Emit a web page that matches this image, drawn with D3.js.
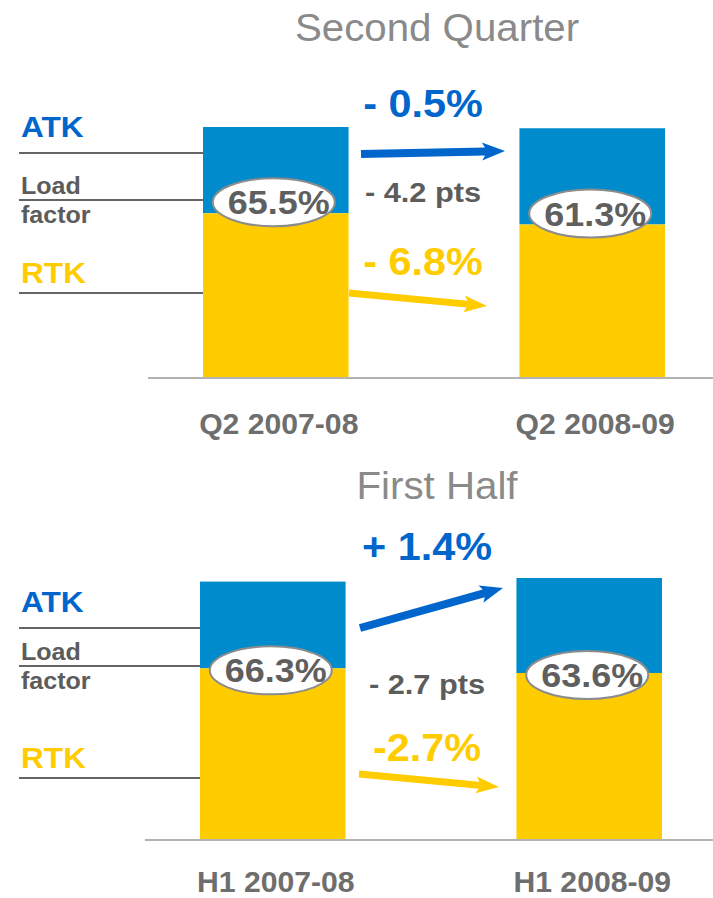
<!DOCTYPE html>
<html>
<head>
<meta charset="utf-8">
<script src="https://cdn.jsdelivr.net/npm/d3@7"></script>
<style>
  body { margin: 0; background: #fff; }
  svg { display: block; font-family: "Liberation Sans", Arial, sans-serif; }
</style>
</head>
<body>
<svg id="chart"></svg>
<script>
// Second quarter
const q2Title = "Second Quarter";
const q2Categories = ["Q2 2007-08", "Q2 2008-09"];
const q2Atk = [100, 99.5];          // ATK index
const q2Rtk = [65.5, 61.0];         // RTK index (ATK x load factor)
const q2LoadFactor = [65.5, 61.3];  // %
const q2Changes = ["- 0.5%", "- 4.2 pts", "- 6.8%"];

// First half
const h1Title = "First Half";
const h1Categories = ["H1 2007-08", "H1 2008-09"];
const h1Atk = [100, 101.4];
const h1Rtk = [66.3, 64.5];
const h1LoadFactor = [66.3, 63.6];
const h1Changes = ["+ 1.4%", "- 2.7 pts", "-2.7%"];

const legendLabels = ["ATK", "Load", "factor", "RTK"];

const width = 713,
      height = 898,
      svg = d3.select("#chart")
              .attr("width", width)
              .attr("height", height);

const BLUE_BAR = "#008ccc",
      BLUE = "#0066cc",
      YELLOW = "#ffcc00",
      GREY = "#5c5c5c";

// the slide text is a little wider than the font draws it
const SX = 1.09;

const fmtPct = d3.format(".1f");

function stretch(xf, yf, s) {
    return function (d, i) {
        const xv = typeof xf === "function" ? xf(d, i) : xf;
        const yv = typeof yf === "function" ? yf(d, i) : yf;
        return `translate(${[xv, yv]}) scale(${s || SX},1)`;
    };
}

function arrowPath(x0, y0, x1, y1, w, L, H) {
    const dx = x1 - x0, dy = y1 - y0, len = Math.hypot(dx, dy);
    const ux = dx / len, uy = dy / len, nx = -uy, ny = ux;
    const bx = x1 - ux * L, by = y1 - uy * L;
    const pts = [
        [x0 + nx * w, y0 + ny * w],
        [bx + nx * w, by + ny * w],
        [bx + nx * H - ux * 3, by + ny * H - uy * 3],
        [x1, y1],
        [bx - nx * H - ux * 3, by - ny * H - uy * 3],
        [bx - nx * w, by - ny * w],
        [x0 - nx * w, y0 - ny * w]
    ];
    return "M" + pts.join("L") + "Z";
}

function drawPanel(p) {
    const g = svg.append("g");

    const x = d3.scaleBand()
        .domain(p.categories)
        .range([p.barLeft, p.barLeft + 462])
        .paddingInner(0.54)
        .paddingOuter(0);

    const y = d3.scaleLinear()
        .domain([0, d3.max(p.atk)])
        .range([p.base, p.top]);

    const mid = (d) => x(d) + x.bandwidth() / 2;

    // title
    g.append("text")
        .attr("transform", stretch(437, p.titleY, 1.06))
        .attr("text-anchor", "middle")
        .attr("font-size", 38)
        .attr("fill", "#8a8a8a")
        .text(p.title);

    // legend rules + labels
    g.selectAll(".rule")
        .data(p.ruleY)
        .enter().append("line")
            .attr("x1", 19)
            .attr("x2", x(p.categories[0]))
            .attr("y1", (d) => d)
            .attr("y2", (d) => d)
            .attr("stroke", "#666")
            .attr("stroke-width", 2);

    const legendStyle = [
        { c: BLUE, s: 29, dy: p.ruleY[0] - 16 },
        { c: GREY, s: 23, dy: p.ruleY[1] - 6 },
        { c: GREY, s: 23, dy: p.ruleY[1] + 23 },
        { c: YELLOW, s: 29, dy: p.ruleY[2] - 10 }
    ];
    g.selectAll(".legend")
        .data(legendLabels)
        .enter().append("text")
            .attr("transform", stretch(21, (d, i) => legendStyle[i].dy))
            .attr("font-size", (d, i) => legendStyle[i].s)
            .attr("font-weight", "bold")
            .attr("fill", (d, i) => legendStyle[i].c)
            .text((d) => d);

    // arrows
    g.append("path")
        .attr("d", arrowPath(...p.atkArrow, 4, 20, 9))
        .attr("fill", BLUE);
    g.append("path")
        .attr("d", arrowPath(...p.rtkArrow, 3.5, 20, 8.5))
        .attr("fill", YELLOW);

    // baseline
    g.append("line")
        .attr("x1", p.axisLeft)
        .attr("x2", width)
        .attr("y1", p.base + 1)
        .attr("y2", p.base + 1)
        .attr("stroke", "#b3b3b3")
        .attr("stroke-width", 2);

    // bars: ATK on top, RTK below
    const bar = g.selectAll(".bar")
        .data(p.categories)
        .enter().append("g")
            .attr("class", "bar");

    bar.append("rect")
        .attr("x", (d) => x(d))
        .attr("width", x.bandwidth())
        .attr("y", (d, i) => y(p.atk[i]))
        .attr("height", (d, i) => y(p.rtk[i]) - y(p.atk[i]))
        .attr("fill", BLUE_BAR);

    bar.append("rect")
        .attr("x", (d) => x(d))
        .attr("width", x.bandwidth())
        .attr("y", (d, i) => y(p.rtk[i]))
        .attr("height", (d, i) => y(0) - y(p.rtk[i]))
        .attr("fill", YELLOW);

    // load factor bubbles
    bar.append("ellipse")
        .attr("cx", (d) => mid(d) - 2)
        .attr("cy", (d, i) => y(p.rtk[i]) + p.bubbleDy)
        .attr("rx", 61)
        .attr("ry", 24)
        .attr("fill", "#fff")
        .attr("stroke", "#8c8c8c")
        .attr("stroke-width", 2);

    bar.append("text")
        .attr("transform", stretch((d) => mid(d) + 3, (d, i) => y(p.rtk[i]) + p.bubbleDy + 12))
        .attr("text-anchor", "middle")
        .attr("font-size", 33)
        .attr("font-weight", "bold")
        .attr("fill", "#5f5f5f")
        .text((d, i) => fmtPct(p.loadFactor[i]) + "%");

    // category labels
    bar.append("text")
        .attr("transform", stretch((d) => mid(d) + 3, p.catY, 1.04))
        .attr("text-anchor", "middle")
        .attr("font-size", 29)
        .attr("font-weight", "bold")
        .attr("fill", "#6e6e6e")
        .text((d) => d);

    // change annotations
    const changeColor = [BLUE, GREY, YELLOW],
          changeSize = [38, 27, 38],
          changeSX = [SX, 1.14, SX];
    g.selectAll(".change")
        .data(p.changes)
        .enter().append("text")
            .attr("transform", (d, i) => stretch(p.changeX, p.changeY[i], changeSX[i])(d, i))
            .attr("text-anchor", "middle")
            .attr("font-size", (d, i) => changeSize[i])
            .attr("font-weight", "bold")
            .attr("fill", (d, i) => changeColor[i])
            .text((d) => d);
}

drawPanel({
    title: q2Title, categories: q2Categories, atk: q2Atk, rtk: q2Rtk,
    loadFactor: q2LoadFactor, changes: q2Changes,
    titleY: 41, barLeft: 203, axisLeft: 148, base: 377, top: 127,
    ruleY: [153, 200, 293], bubbleDy: -11, catY: 434,
    changeX: 423, changeY: [117, 202, 275],
    atkArrow: [361, 154, 505, 151], rtkArrow: [349, 293, 487, 306]
});

drawPanel({
    title: h1Title, categories: h1Categories, atk: h1Atk, rtk: h1Rtk,
    loadFactor: h1LoadFactor, changes: h1Changes,
    titleY: 499, barLeft: 200, axisLeft: 145, base: 839, top: 578,
    ruleY: [628, 666, 778], bubbleDy: 2, catY: 892,
    changeX: 427, changeY: [560, 694, 761],
    atkArrow: [360, 628, 503, 588], rtkArrow: [359, 774, 499, 787]
});
</script>
</body>
</html>
